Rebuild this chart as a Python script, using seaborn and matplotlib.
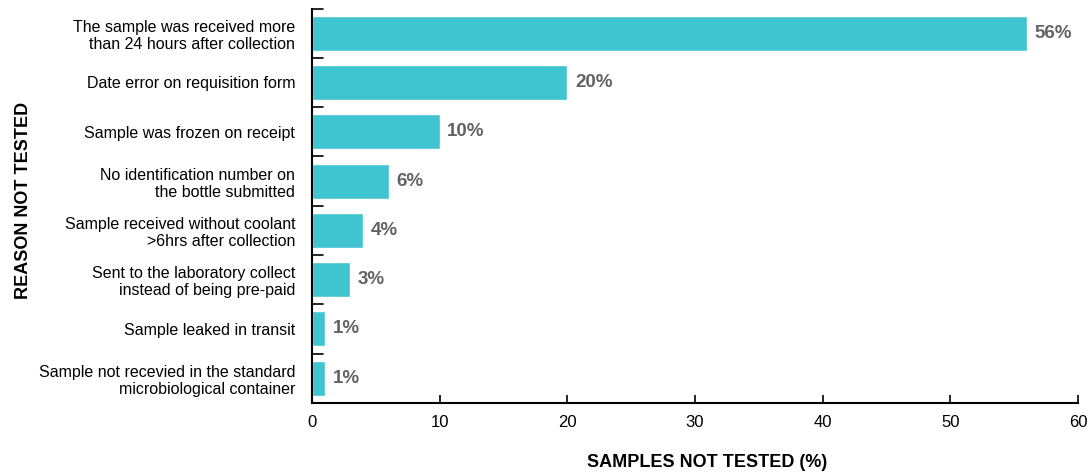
import numpy as np
import pandas as pd
import seaborn as sns
import matplotlib.pyplot as plt

sns.set_theme(style="ticks")
plt.rcParams['font.family'] = ['Liberation Sans', 'DejaVu Sans']

# Data
reasons = [
    "The sample was received more\nthan 24 hours after collection",
    "Date error on requisition form",
    "Sample was frozen on receipt",
    "No identification number on\nthe bottle submitted",
    "Sample received without coolant\n>6hrs after collection",
    "Sent to the laboratory collect\ninstead of being pre-paid",
    "Sample leaked in transit",
    "Sample not recevied in the standard\nmicrobiological container",
]
percent = [56, 20, 10, 6, 4, 3, 1, 1]
df = pd.DataFrame({"reason": reasons, "percent": percent})

fig = plt.figure(figsize=(10.89, 4.75), dpi=100)
ax = fig.add_axes([0.2865, 0.152, 0.7035, 0.830])

sns.barplot(data=df, x="percent", y="reason", color="#40C4D0", saturation=1,
            width=0.71, ax=ax)

for i, v in enumerate(percent):
    ax.text(v + 0.6, i, f"{v}%", va="center", ha="left", fontsize=13.5,
            color="#636363", fontweight="bold")

ax.set_xlim(0, 60)
ax.set_ylim(len(reasons) - 0.5, -0.5)
ax.set_xticks([0, 10, 20, 30, 40, 50, 60])
ax.tick_params(axis="x", direction="in", length=6, labelsize=12, pad=9,
               width=1.2, colors="black")
# y ticks sit between categories
ax.set_yticks(np.arange(len(reasons)))
ax.set_yticklabels(reasons, fontsize=11.5, linespacing=1.2, color="black")
ax.tick_params(axis="y", length=0, pad=12)
for b in np.arange(-0.5, len(reasons) - 0.5, 1.0):
    ax.plot([0, 0.9], [b, b], color="black", lw=1.2, clip_on=False)

for s in ["top", "right"]:
    ax.spines[s].set_visible(False)
for s in ["left", "bottom"]:
    ax.spines[s].set_linewidth(1.5)
    ax.spines[s].set_color("black")

ax.set_xlabel("")
ax.set_ylabel("")
fig.text(0.649, 0.027, "SAMPLES NOT TESTED (%)", ha="center", va="center",
         fontsize=13, fontweight="bold", color="black")
fig.text(0.022, 0.579, "REASON NOT TESTED", rotation=90, va="center", ha="center",
         fontsize=13, fontweight="bold", color="black")

plt.savefig("out.png", dpi=100)
